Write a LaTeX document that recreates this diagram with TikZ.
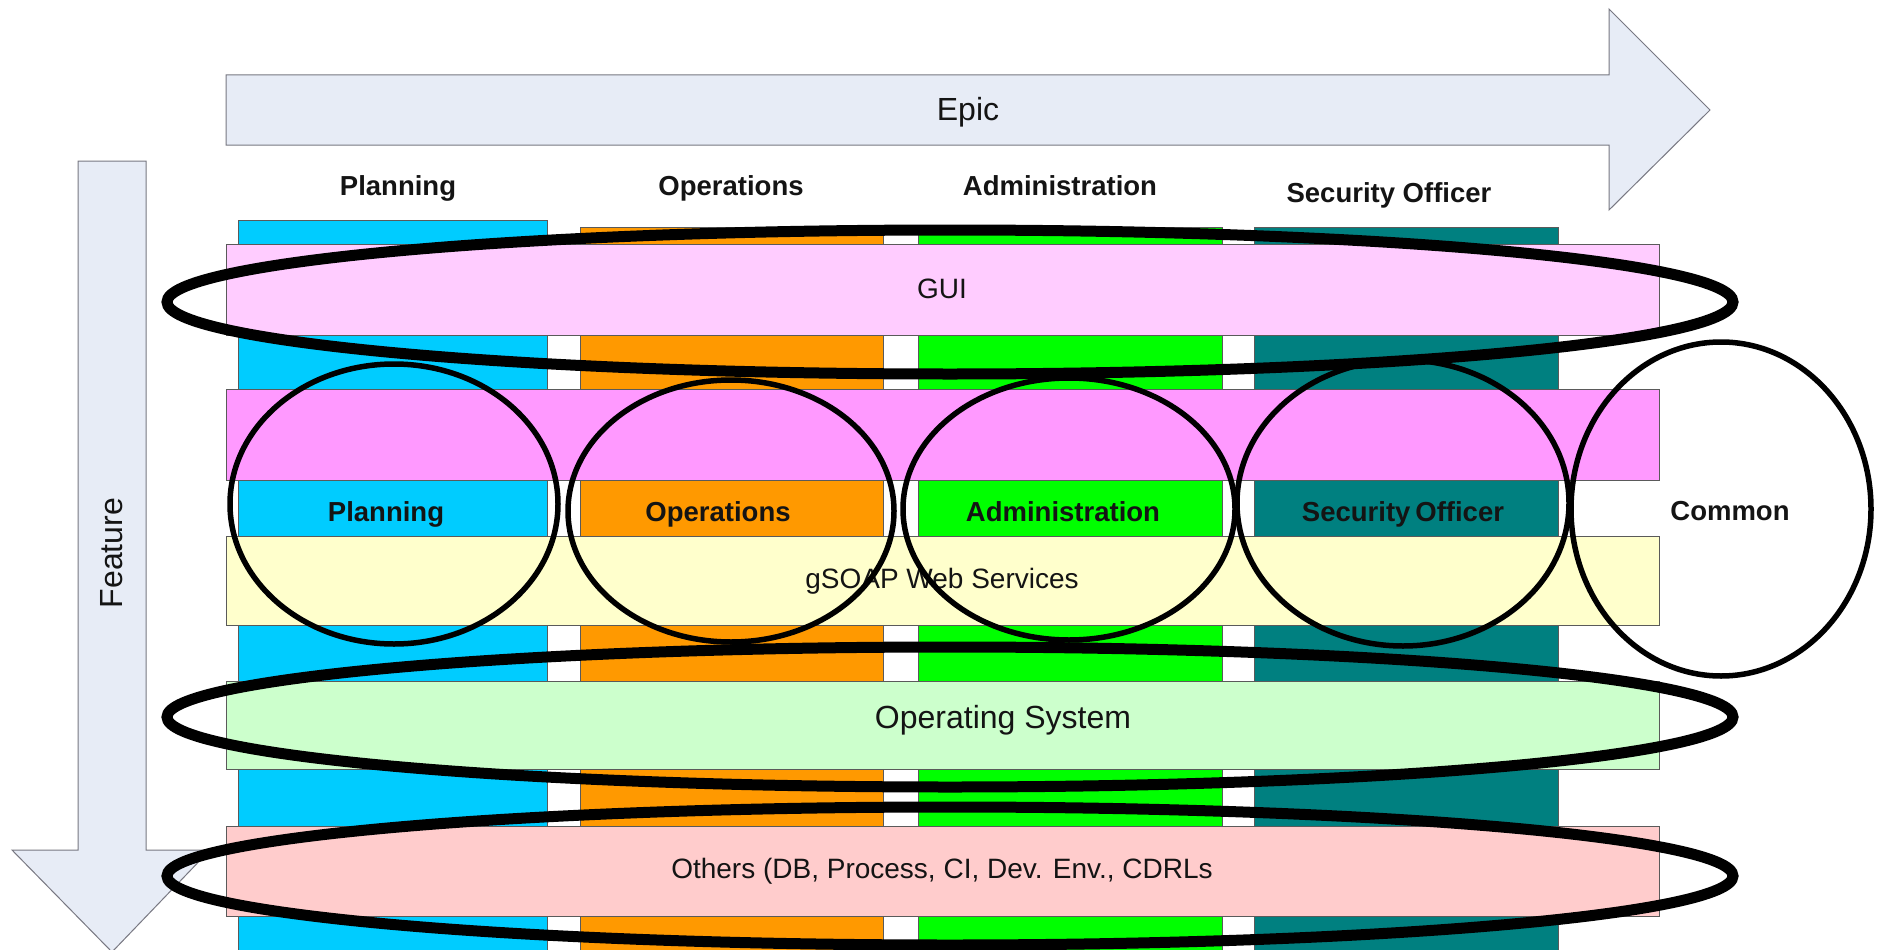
\documentclass[tikz,border=0pt]{standalone}
\usepackage{fontspec}
\setmainfont{Liberation Sans}
\usetikzlibrary{shapes.geometric}
\definecolor{arrowfill}{RGB}{231,236,246}
\definecolor{arrowline}{RGB}{120,120,130}
\definecolor{cyanc}{RGB}{0,204,255}
\definecolor{orangec}{RGB}{255,153,0}
\definecolor{greenc}{RGB}{0,255,0}
\definecolor{tealc}{RGB}{0,128,128}
\definecolor{guic}{RGB}{255,204,255}
\definecolor{magc}{RGB}{255,153,255}
\definecolor{soapc}{RGB}{255,255,204}
\definecolor{osc}{RGB}{204,255,204}
\definecolor{othc}{RGB}{255,204,204}
\definecolor{edgec}{RGB}{90,90,90}
\definecolor{inkc}{RGB}{20,20,20}
\tikzset{
  bigarrow/.style={fill=arrowfill, draw=arrowline, line width=1pt, line join=miter},
  colbox/.style={draw=edgec, line width=1pt},
  bandbox/.style={draw=edgec, line width=1pt},
  hdr/.style={font=\bfseries\fontsize{27.5}{30}\selectfont, text=inkc, anchor=base, inner sep=0pt},
  bandtxt/.style={font=\fontsize{28}{30}\selectfont, text=inkc, anchor=base, inner sep=0pt},
  bigtxt/.style={font=\fontsize{32}{34}\selectfont, text=inkc, anchor=base, inner sep=0pt},
  ring/.style={ellipse, draw=black, line width=5.5pt, inner sep=0pt, outer sep=0pt},
  belt/.style={ellipse, draw=black, line width=11pt, inner sep=0pt, outer sep=0pt}
}
\begin{document}
\begin{tikzpicture}[x=1pt, y=-1pt]
\useasboundingbox (0,0) rectangle (1885,950);
\fill[white] (0,0) rectangle (1885,950);

% Epic arrow (horizontal)
\draw[bigarrow] (226,75) -- (1609,75) -- (1609,9) -- (1710,110) -- (1609,210) -- (1609,145) -- (226,145) -- cycle;
\node[bigtxt, anchor=base] (epic) at (968,120) {Epic};

% Feature arrow (vertical)
\draw[bigarrow] (78,161) -- (146,161) -- (146,850) -- (210,850) -- (112,952) -- (12,850) -- (78,850) -- cycle;
\node[font=\fontsize{32}{34}\selectfont, text=inkc, rotate=90, inner sep=0pt] (feature) at (112,553) {Feature};

% headers
\node[hdr] (hP) at (398,195) {Planning};
\node[hdr] (hO) at (731,195) {Operations};
\node[hdr] (hA) at (1060,195) {Administration};
\node[hdr] (hS) at (1389,202) {Security Officer};

% columns
\draw[colbox, fill=cyanc]   (238,220) rectangle (547,952);
\draw[colbox, fill=orangec] (580,227) rectangle (883,952);
\draw[colbox, fill=greenc]  (918,227) rectangle (1222,952);
\draw[colbox, fill=tealc]   (1254,227) rectangle (1558,952);

% horizontal bands
\draw[bandbox, fill=guic]  (226,244) rectangle (1659,335);
\draw[bandbox, fill=magc]  (226,389) rectangle (1659,480);
\draw[bandbox, fill=soapc] (226,536) rectangle (1659,625);
\draw[bandbox, fill=osc]   (226,681) rectangle (1659,769);
\draw[bandbox, fill=othc]  (226,826) rectangle (1659,916);

% band texts
\node[bandtxt] (tGUI) at (942,298) {GUI};
\node[bandtxt] (tSOAP) at (942,588) {gSOAP Web Services};
\node[bigtxt]  (tOS) at (1003,728) {Operating System};
\node[bandtxt] (tOth) at (942,878) {Others (DB, Process, CI, Dev. Env., CDRLs};

% column labels
\node[hdr] (lP) at (386,521) {Planning};
\node[hdr] (lO) at (718,521) {Operations};
\node[hdr] (lA) at (1063,521) {Administration};
\node[hdr] (lS) at (1403,521) {Security\kern-0.1em\ Officer};
\node[hdr] (lC) at (1730,520) {Common};

% vertical rings
\node[ring, minimum width=328pt, minimum height=280pt] (eP) at (394,504) {};
\node[ring, minimum width=326pt, minimum height=262pt] (eO) at (731,511) {};
\node[ring, minimum width=332pt, minimum height=262pt] (eA) at (1069,509) {};
\node[ring, minimum width=332pt, minimum height=286pt] (eS) at (1403,503) {};
\node[ring, minimum width=300pt, minimum height=334pt] (eC) at (1721,509) {};

% horizontal belts
\node[belt, minimum width=1566pt, minimum height=144pt] (eGUI) at (950,302) {};
\node[belt, minimum width=1566pt, minimum height=140pt] (eOS) at (950,717) {};
\node[belt, minimum width=1566pt, minimum height=138pt] (eOth) at (950,876) {};
\end{tikzpicture}
\end{document}
